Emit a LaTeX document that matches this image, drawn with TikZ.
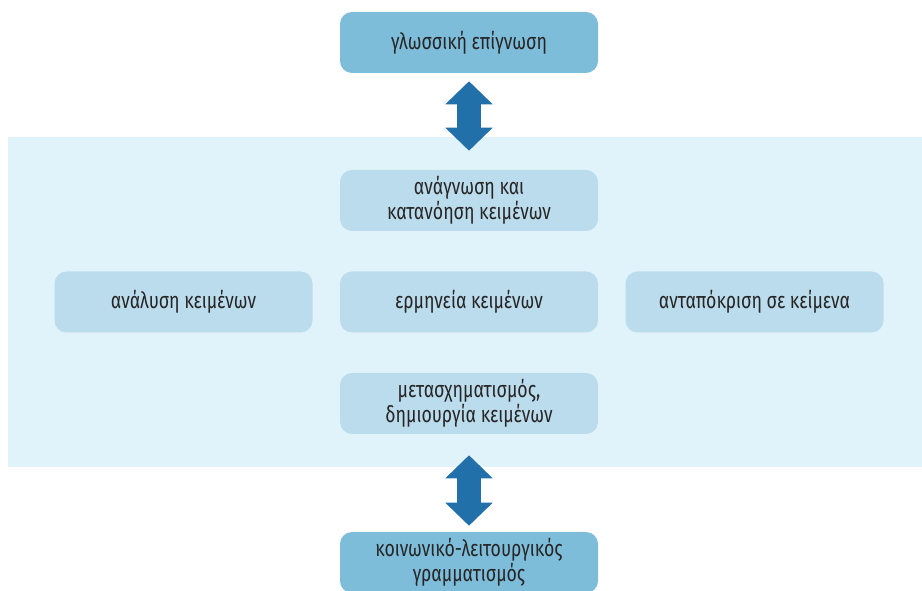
\documentclass[tikz,border=0pt]{standalone}
\usepackage{fontspec}
\setmainfont[FakeStretch=0.78]{Fira Sans}
\usetikzlibrary{arrows.meta,positioning}

\definecolor{outerblue}{HTML}{7DBDDA}
\definecolor{innerblue}{HTML}{BBDCEC}
\definecolor{bandblue}{HTML}{E1F3FA}
\definecolor{arrowblue}{HTML}{2270A9}
\definecolor{textgray}{HTML}{262424}

\begin{document}
\begin{tikzpicture}[x=0.75pt,y=-0.75pt]
    \tikzstyle{box}=[rounded corners=9pt, minimum width=193.5pt, minimum height=45.75pt,
        inner sep=0pt, align=center, text=textgray,
        font=\fontsize{17}{18.75}\selectfont]
    \tikzstyle{outer box}=[box, fill=outerblue];
    \tikzstyle{inner box}=[box, fill=innerblue];
    \tikzstyle{link}=[draw=arrowblue, line width=18pt,
        {Triangle[length=17.25pt,width=34.5pt]}-{Triangle[length=17.25pt,width=34.5pt]}]
    \def\colsep{285.5}

    \clip (0,0) rectangle (922,591);

    % Draw the light band behind the inner boxes
    \fill[bandblue] (8,137) rectangle (922,467);

    % Draw the outer boxes
    \node[outer box] (aware) at (469,42.5) {γλωσσική επίγνωση};
    \node[outer box] (literacy) at (469,562.5) {κοινωνικό-λειτουργικός\\γραμματισμός};

    % Draw the inner boxes
    \node[inner box] (reading) at (469,200.5) {ανάγνωση και\\κατανόηση κειμένων};
    \node[inner box] (interpret) at (469,302) {ερμηνεία κειμένων};
    \node[inner box] (analysis) at (469-\colsep,302) {ανάλυση κειμένων};
    \node[inner box] (response) at (469+\colsep,302) {ανταπόκριση σε κείμενα};
    \node[inner box] (transform) at (469,403.5) {μετασχηματισμός,\\δημιουργία κειμένων};

    % Connect the outer boxes with the band
    \draw[link, shorten <=6pt, shorten >=14.25pt] (aware) -- (reading);
    \draw[link, shorten <=15.75pt, shorten >=4.5pt] (transform) -- (literacy);

\end{tikzpicture}
\end{document}
